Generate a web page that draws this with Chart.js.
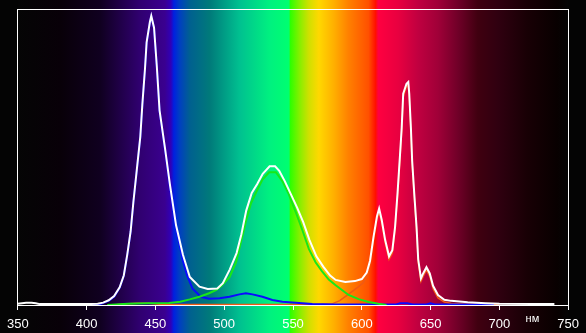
<!DOCTYPE html>
<html>
<head>
<meta charset="utf-8">
<script src="https://cdn.jsdelivr.net/npm/chart.js@4.4.1/dist/chart.umd.min.js"></script>
<style>
 html,body{margin:0;padding:0;background:#040404;}
 canvas{display:block;}
</style>
</head>
<body>
<canvas id="spectrum" width="586" height="333"></canvas>
<script>
// wavelength, nm -> relative intensity (0..100 of the frame height)
const whiteNm = [350,353,356,360,363,366,380,400,408,412,416,420,424,427,429.5,432,434,436.5,439,440.5,442.4,443.6,446,447,449,451,453,457,460.5,465,470,475,482,488,495,499,504,509,512.5,516,520,524,528,533,537,540,544,548,553,557.5,562,567,572,577,581,588,595,600,603.6,606,608.5,611,612.6,614.5,617,619.8,622.2,624.2,626,627.8,629,630.1,632.5,633.8,634.5,635.7,636.6,638.1,639.8,641,643,644.6,647,649.4,651.8,655.4,660,665,677,690,700,740];
const whiteVal = [0.4,0.6,0.8,0.8,0.6,0.3,0.3,0.3,0.4,0.8,1.6,3,6,10,17,25,35,46,57,68,80,89,96,98,94,81,66,53,41,27,17,9.5,6.2,5.4,5.6,7.4,12,17.6,24,32,38,41,44.5,47,47,45.5,42,38,33,28,22,16.5,13,10,8.5,7.8,8.1,8.8,11,15,23,30,32.7,28.8,22,16.5,18.6,26.5,38,51,60,71.6,75,75.6,71.6,60,49,38,26.5,15.5,9,10.7,12.8,10.7,6.5,3.4,1.8,1.4,0.9,0.6,0.4,0.3];

const greenNm = [415,430,445,460,468,475,482,489,494,498,501,504,508.6,512,515.8,519.5,523,527.8,532.7,537.5,542.3,547,552,556.7,561.5,566.4,571,576,580.8,585.6,590.4,597.7,605,612,618];
const greenVal = [0,0.4,0.6,0.7,1.1,1.9,2.8,4,5,6.5,8,9.5,14.5,21,28.5,34.5,38,42.5,45,45,42,37.5,31.5,25.5,19,14.5,11.5,8.6,6.8,5.1,3.4,2,1,0.4,0];

const blueNm = [400,410,416,420,424,427,429.5,432,434,436.5,439,440.5,442.4,443.6,446,447,449,451,453,457,460.5,465,470,473,477,483,489,496.6,503.8,511,515.8,520.6,527.8,535,542.3,552,564,580,600,625,628,633,637,647,650,653,696];
const blueVal = [0,0.3,1.4,2.8,5.8,9.8,16.8,24.8,34.8,45.8,56.8,67.8,79.8,88.8,95.8,97.8,93.8,80.8,65.8,52.5,40.5,26,15,10,5.5,2.8,2.1,2.3,2.8,3.6,4,3.6,2.8,1.7,1.1,0.8,0.3,0.2,0.2,0.2,0.6,0.6,0.2,0.2,0.6,0.2,0.2];

const redNm = [420,423,430,437,445,451,455,500,560,578,584,590,597,601,603.6,606,608.5,611,612.6,614.5,617,619.8,622.2,624.2,626,627.8,629,630.1,632.5,633.8,634.5,635.7,636.6,638.1,639.8,641,643,644.6,647,649.4,651.8,655.4,660,665,680,700];
const redVal = [0,0.2,0.4,0.6,0.6,0.3,0.2,0.2,0.2,0.3,1.5,3.5,6,7.5,9.5,14,22,29,31.5,27.8,21,15.5,17.6,25.5,37,50,59,70.6,74,74.6,70.6,59,48,37,25.5,14.5,8,9.7,11.8,9.7,5.5,2.4,1,0.5,0.3,0];

const xTicks = [350,400,450,500,550,600,650,700,750];
const unitLabel = "нм";

// background spectrum: wavelength -> colour
const bandNm = [350,381,410,438.8,456.9,461.2,463.4,467.7,475,489.4,511,532.7,547,548.2,554.3,561.5,568.8,579.6,590.4,604.9,610,612,626.5,641,655.4,669.9,684.3,698.7,720.4,742,750];
const bandColor = ["#050505","#080008","#100020","#300070","#3a0090","#3000b8","#0020e0","#0040c0","#006090","#007a7a","#00c090","#00f080","#00ff70","#30ff00","#80f000","#d0e000","#ffd800","#ffb000","#ff8000","#ff5000","#ff1000","#ff0040","#e80040","#c00040","#a00038","#700028","#400010","#300010","#180005","#080000","#050505"];

function pts(xs,ys){ return xs.map((x,i)=>({x:x,y:ys[i]})); }

const spectrumBg = {
 id:'spectrumBg',
 beforeDraw(chart){
  const ctx=chart.ctx, xs=chart.scales.x;
  const x0=xs.getPixelForValue(350), x1=xs.getPixelForValue(750);
  const g=ctx.createLinearGradient(x0,0,x1,0);
  bandNm.forEach((nm,i)=>{
   g.addColorStop((xs.getPixelForValue(nm)-x0)/(x1-x0),bandColor[i]);
  });
  ctx.save();
  ctx.fillStyle='#040404';
  ctx.fillRect(0,0,chart.width,chart.height);
  ctx.fillStyle=g;
  ctx.fillRect(x0,0,x1-x0,chart.height);
  ctx.restore();
 },
 afterDraw(chart){
  const ctx=chart.ctx, a=chart.chartArea, xs=chart.scales.x;
  ctx.save();
  ctx.strokeStyle='#ffffff';
  ctx.lineWidth=1;
  ctx.strokeRect(Math.round(a.left)-0.5,Math.round(a.top)-0.5,Math.round(a.right-a.left)+1,Math.round(a.bottom-a.top)+1);
  ctx.fillStyle='#ffffff';
  ctx.font='11px "Liberation Sans", Arial, sans-serif';
  ctx.textAlign='center';
  ctx.textBaseline='alphabetic';
  ctx.fillText(unitLabel,xs.getPixelForValue(724),a.bottom+17);
  ctx.restore();
 }
};

new Chart(document.getElementById("spectrum"),{
 type:'line',
 data:{datasets:[
  {label:'sum',data:pts(whiteNm,whiteVal),borderColor:'#ffffff',borderWidth:2},
  {label:'green',data:pts(greenNm,greenVal),borderColor:'#18e818',borderWidth:2},
  {label:'blue',data:pts(blueNm,blueVal),borderColor:'#0a0aff',borderWidth:2},
  {label:'red',data:pts(redNm,redVal),borderColor:'#f05a14',borderWidth:1.5}
 ]},
 options:{
  responsive:false,
  animation:false,
  devicePixelRatio:1,
  elements:{point:{radius:0},line:{tension:0}},
  layout:{padding:{left:17,right:15,top:10,bottom:0}},
  plugins:{legend:{display:false},tooltip:{enabled:false}},
  scales:{
   x:{
    type:'linear',min:350,max:750,
    afterBuildTicks:s=>{ s.ticks=xTicks.map(v=>({value:v})); },
    afterFit:s=>{ s.height=28; },
    ticks:{color:'#ffffff',padding:7,maxRotation:0,autoSkip:false,font:{family:'"Liberation Sans", Arial, sans-serif',size:13}},
    grid:{display:true,drawOnChartArea:false,color:'#ffffff',tickLength:5},
    border:{display:true,color:'#ffffff',width:1}
   },
   y:{display:false,min:0,max:100}
  }
 },
 plugins:[spectrumBg]
});
</script>
</body>
</html>
